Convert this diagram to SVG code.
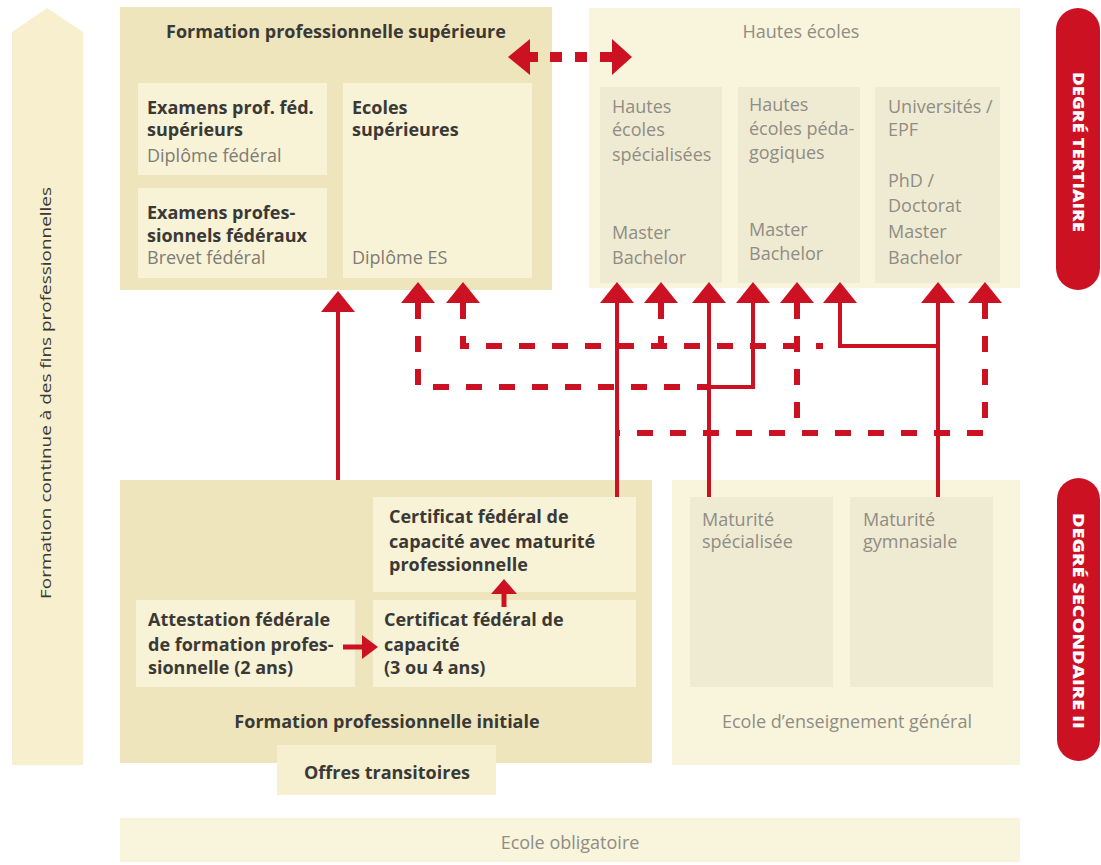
<svg xmlns="http://www.w3.org/2000/svg" width="1101" height="865" viewBox="0 0 1101 865">
<style>
.dk{fill:#efe5bc}
.lt{fill:#f8f2d7}
.hs{fill:#f9f4dc}
.gi{fill:#efead2}
.b{font-family:"Open Sans","Liberation Sans",sans-serif;font-weight:700;font-size:18px;fill:#3a3935}
.g{font-family:"Open Sans","Liberation Sans",sans-serif;font-size:18px;fill:#8f8d85}
.gd{font-family:"Open Sans","Liberation Sans",sans-serif;font-size:18px;fill:#7e7c74}
.w{font-family:"Open Sans","Liberation Sans",sans-serif;font-weight:800;font-size:15px;fill:#ffffff}
.sol{stroke:#cc1222;stroke-width:4;fill:none}
.dsh{stroke:#cc1222;stroke-width:6;stroke-dasharray:16 17;fill:none}
.hd{fill:#cc1222}
</style>
<rect width="1101" height="865" fill="#ffffff"/>

<g id="formation-continue">
<polygon points="12,32 47,8 83,32 83,765 12,765" fill="#f7efcd"/>
<text transform="translate(46,393) rotate(-90)" y="5" text-anchor="middle" font-family="Open Sans, Liberation Sans, sans-serif" font-size="15" fill="#3a3935" textLength="412" lengthAdjust="spacingAndGlyphs">Formation continue à des fins professionnelles</text>
</g>

<g id="formation-pro-sup">
<rect class="dk" x="120" y="7" width="432" height="283"/>
<text class="b" x="336" y="38" text-anchor="middle">Formation professionnelle supérieure</text>
</g>
<g id="examens-sup">
<rect class="lt" x="138" y="83" width="189" height="92"/>
<text class="b" x="147" y="114">Examens prof. féd.</text>
<text class="b" x="147" y="136">supérieurs</text>
<text class="gd" x="147" y="162">Diplôme fédéral</text>
</g>
<g id="examens-pro">
<rect class="lt" x="138" y="188" width="189" height="90"/>
<text class="b" x="147" y="219">Examens profes-</text>
<text class="b" x="147" y="242">sionnels fédéraux</text>
<text class="gd" x="147" y="264">Brevet fédéral</text>
</g>
<g id="ecoles-sup">
<rect class="lt" x="343" y="83" width="189" height="195"/>
<text class="b" x="352" y="114">Ecoles</text>
<text class="b" x="352" y="136">supérieures</text>
<text class="gd" x="352" y="264">Diplôme ES</text>
</g>

<g id="hautes-ecoles">
<rect class="hs" x="589" y="8" width="431" height="280"/>
<text class="g" x="801" y="38" text-anchor="middle">Hautes écoles</text>
</g>
<g id="hes">
<rect class="gi" x="600" y="87" width="122" height="196"/>
<text class="g" x="612" y="113">Hautes</text>
<text class="g" x="612" y="136">écoles</text>
<text class="g" x="612" y="161">spécialisées</text>
<text class="g" x="612" y="239">Master</text>
<text class="g" x="612" y="264">Bachelor</text>
</g>
<g id="hep">
<rect class="gi" x="738" y="87" width="122" height="196"/>
<text class="g" x="749" y="111">Hautes</text>
<text class="g" x="749" y="135">écoles péda-</text>
<text class="g" x="749" y="159">gogiques</text>
<text class="g" x="749" y="236">Master</text>
<text class="g" x="749" y="260">Bachelor</text>
</g>
<g id="universites">
<rect class="gi" x="875" y="87" width="125" height="196"/>
<text class="g" x="888" y="113">Universités /</text>
<text class="g" x="888" y="136">EPF</text>
<text class="g" x="888" y="187">PhD /</text>
<text class="g" x="888" y="212">Doctorat</text>
<text class="g" x="888" y="238">Master</text>
<text class="g" x="888" y="264">Bachelor</text>
</g>

<g id="degre-tertiaire">
<rect x="1056" y="8" width="44" height="282" rx="22" fill="#cc1222"/>
<text class="w" transform="translate(1078,152) rotate(90)" y="5" text-anchor="middle" textLength="160" lengthAdjust="spacingAndGlyphs">DEGRÉ TERTIAIRE</text>
</g>
<g id="degre-secondaire">
<rect x="1057" y="478" width="43" height="283" rx="21.5" fill="#cc1222"/>
<text class="w" transform="translate(1078,621) rotate(90)" y="5" text-anchor="middle" textLength="216" lengthAdjust="spacingAndGlyphs">DEGRÉ SECONDAIRE II</text>
</g>

<g id="formation-pro-initiale">
<rect class="dk" x="120" y="480" width="532" height="283"/>
<text class="b" x="387" y="728" text-anchor="middle">Formation professionnelle initiale</text>
</g>
<g id="cfc-maturite">
<rect class="lt" x="373" y="497" width="263" height="95"/>
<text class="b" x="389" y="523">Certificat fédéral de</text>
<text class="b" x="389" y="548">capacité avec maturité</text>
<text class="b" x="389" y="571">professionnelle</text>
</g>
<g id="attestation">
<rect class="lt" x="136" y="600" width="219" height="87"/>
<text class="b" x="148" y="626">Attestation fédérale</text>
<text class="b" x="148" y="651">de formation profes-</text>
<text class="b" x="148" y="674">sionnelle (2 ans)</text>
</g>
<g id="cfc">
<rect class="lt" x="373" y="600" width="263" height="87"/>
<text class="b" x="384" y="626">Certificat fédéral de</text>
<text class="b" x="384" y="651">capacité</text>
<text class="b" x="384" y="674">(3 ou 4 ans)</text>
</g>
<g id="offres-transitoires">
<rect x="277" y="745" width="219" height="50" fill="#f6efd0"/>
<text class="b" x="387" y="779" text-anchor="middle">Offres transitoires</text>
</g>

<g id="ecole-enseignement-general">
<rect class="hs" x="672" y="480" width="348" height="285"/>
<text class="g" x="847" y="728" text-anchor="middle">Ecole d’enseignement général</text>
</g>
<g id="maturite-specialisee">
<rect class="gi" x="690" y="497" width="143" height="190"/>
<text class="g" x="702" y="526">Maturité</text>
<text class="g" x="702" y="548">spécialisée</text>
</g>
<g id="maturite-gymnasiale">
<rect class="gi" x="850" y="497" width="143" height="190"/>
<text class="g" x="863" y="526">Maturité</text>
<text class="g" x="863" y="548">gymnasiale</text>
</g>

<g id="ecole-obligatoire">
<rect class="hs" x="120" y="818" width="900" height="44"/>
<text class="g" x="570" y="849" text-anchor="middle">Ecole obligatoire</text>
</g>

<g id="connectors">
<polygon class="hd" points="530,39 508,57 530,75"/>
<rect class="hd" x="528" y="52" width="10" height="10"/>
<rect class="hd" x="550" y="52" width="12" height="10"/>
<rect class="hd" x="575" y="52" width="12" height="10"/>
<rect class="hd" x="600" y="52" width="13" height="10"/>
<polygon class="hd" points="612,39 632,57 612,75"/>

<path class="sol" d="M338,480 V310"/>
<polygon class="hd" points="321,312 338,291 355,312"/>
<path class="sol" d="M617,497 V300"/>
<path class="sol" d="M709,497 V300"/>
<path class="sol" d="M709,387 H753 V300"/>
<path class="sol" d="M938,497 V300"/>
<path class="sol" d="M938,346 H840 V300"/>

<path class="dsh" d="M418,303 V387 H709"/>
<path class="dsh" d="M463,303 V346 H823"/>
<path class="dsh" d="M661,303 V346"/>
<path class="dsh" d="M985,303 V433 H617"/>
<path class="dsh" d="M797,303 V433"/>

<polygon class="hd" points="401,303 418,282 435,303"/>
<polygon class="hd" points="446,303 463,282 480,303"/>
<polygon class="hd" points="600,303 617,282 634,303"/>
<polygon class="hd" points="644,303 661,282 678,303"/>
<polygon class="hd" points="692,303 709,282 726,303"/>
<polygon class="hd" points="736,303 753,282 770,303"/>
<polygon class="hd" points="780,303 797,282 814,303"/>
<polygon class="hd" points="823,303 840,282 857,303"/>
<polygon class="hd" points="921,303 938,282 955,303"/>
<polygon class="hd" points="968,303 985,282 1002,303"/>

<path d="M343,647 H363" stroke="#cc1222" stroke-width="5"/>
<polygon class="hd" points="362,635 378,647 362,659"/>
<path d="M504,607 V592" stroke="#cc1222" stroke-width="5"/>
<polygon class="hd" points="491,594 504,579 517,594"/>
</g>
</svg>
